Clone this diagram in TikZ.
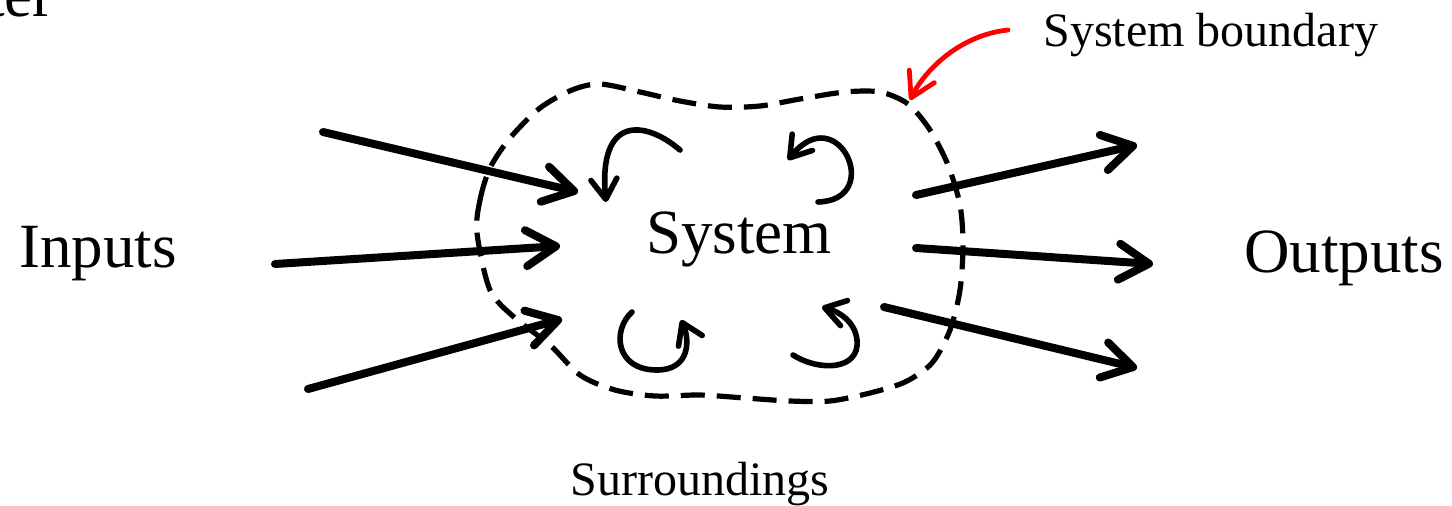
\documentclass[tikz,border=0pt]{standalone}
\usepackage{fontspec}
\setmainfont{Liberation Serif}
\usetikzlibrary{arrows.meta,positioning}

\begin{document}
\begin{tikzpicture}[x=0.5pt, y=-0.5pt,
    bigtext/.style={inner sep=0pt, font=\fontsize{31.5}{36}\selectfont},
    smalltext/.style={inner sep=0pt, font=\fontsize{24}{28}\selectfont},
    flow/.style={line width=4pt, line cap=round, -{Straight Barb[length=15pt,width=18pt,round]}},
    swirl/.style={line width=2.8pt, line cap=round, -{Straight Barb[length=10pt,width=13pt,round]}},
    boundary/.style={line width=2.6pt, dash pattern=on 12pt off 6pt}]
    \useasboundingbox (0,0) rectangle (1452,505);

    % Labels
    \node[bigtext, anchor=base east] (title) at (54,16) {ter};
    \node[bigtext, anchor=base west] (inputs) at (19,267) {Inputs};
    \node[bigtext, anchor=base west] (system) at (646,253) {System};
    \node[bigtext, anchor=base west] (outputs) at (1244,272) {Outputs};
    \node[smalltext, anchor=base west] (bound) at (1043,46) {System boundary};
    \node[smalltext, anchor=base west] (surr) at (570,495) {Surroundings};

    % Boundary
    \draw[boundary] plot[smooth cycle] coordinates {
        (477,233) (480,200) (490,168) (510,138) (540,108) (572,90) (600,84)
        (640,92) (680,101) (720,107) (760,106) (800,99) (845,92) (880,92)
        (908,104) (930,130) (948,165) (960,205) (963,245) (960,290) (950,330)
        (932,363) (905,382) (870,393) (830,401) (790,401) (745,398) (700,395)
        (655,396) (615,390) (580,375) (550,345) (515,318) (490,290)};

    % Inputs
    \coordinate (in1a) at (323,132);  \coordinate (in1b) at (578,192);
    \coordinate (in2a) at (275,264);  \coordinate (in2b) at (560,246);
    \coordinate (in3a) at (308,389);  \coordinate (in3b) at (562,319);
    \draw[flow] (in1a) -- (in1b);
    \draw[flow] (in2a) -- (in2b);
    \draw[flow] (in3a) -- (in3b);

    % Outputs
    \coordinate (out1a) at (916,195); \coordinate (out1b) at (1137,145);
    \coordinate (out2a) at (916,248); \coordinate (out2b) at (1153,264);
    \coordinate (out3a) at (884,307); \coordinate (out3b) at (1137,368);
    \draw[flow] (out1a) -- (out1b);
    \draw[flow] (out2a) -- (out2b);
    \draw[flow] (out3a) -- (out3b);

    % Swirls inside
    \draw[swirl] (680,150) .. controls (645,120) and (598,115) .. (606,202);
    \draw[swirl] (818,202) .. controls (885,200) and (838,98) .. (788,160);
    \draw[swirl] (632,312) .. controls (612,330) and (615,370) .. (657,370)
        .. controls (690,370) and (690,340) .. (681,320);
    \draw[swirl] (793,355) .. controls (820,372) and (860,370) .. (857,340)
        .. controls (855,322) and (840,312) .. (822,307);

    % Pointer to boundary
    \coordinate (redtail) at (1008,30);
    \coordinate (redtip) at (910,100);
    \draw[red, line width=2.4pt, line cap=round, -{Straight Barb[length=12pt,width=14pt,round]}]
        (redtail) .. controls (960,35) and (925,70) .. (redtip);
\end{tikzpicture}
\end{document}
